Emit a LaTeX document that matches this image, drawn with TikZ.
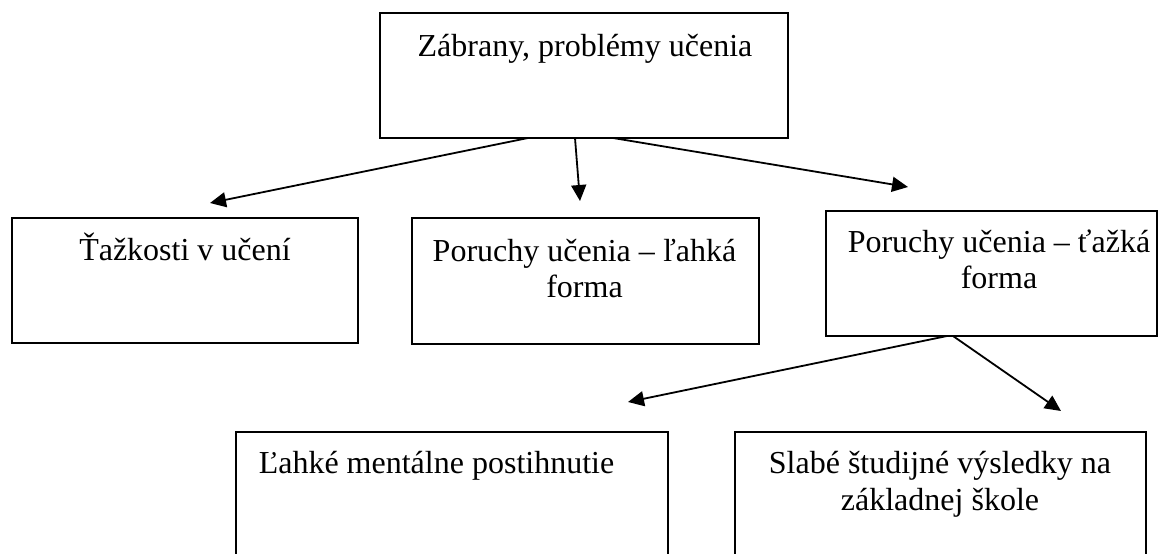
\documentclass[tikz,border=0pt]{standalone}
\usepackage{fontspec}
\setmainfont{Liberation Serif}
\usetikzlibrary{arrows.meta}
\begin{document}
\begin{tikzpicture}[x=1pt,y=-1pt,
  box/.style={draw=black, line width=2pt, rectangle, inner sep=0pt},
  txt/.style={anchor=base, inner sep=0pt, font=\fontsize{32}{37}\selectfont},
  arr/.style={line width=1.8pt, -{Triangle[length=16pt,width=15pt]}}]
\useasboundingbox (0,0) rectangle (1160,554);
% boxes
\node[box, minimum width=408pt, minimum height=125pt] (top) at (584,75.2) {};
\node[box, minimum width=346pt, minimum height=125pt] (b1) at (185,280.5) {};
\node[box, minimum width=347pt, minimum height=126pt] (b2) at (585.5,281) {};
\node[box, minimum width=331pt, minimum height=125pt] (b3) at (991.5,273.5) {};
\node[box, minimum width=432pt, minimum height=160pt] (b4) at (452,512) {};
\node[box, minimum width=411pt, minimum height=160pt] (b5) at (940.5,512) {};
% texts
\node[txt] (t0) at (585,56) {Zábrany, problémy učenia};
\node[txt] (t1) at (185,260) {Ťažkosti v učení};
\node[txt] (t2a) at (584.5,261) {Poruchy učenia – ľahká};
\node[txt] (t2b) at (584.5,297) {forma};
\node[txt] (t3a) at (999,252) {Poruchy učenia – ťažká};
\node[txt] (t3b) at (999,288) {forma};
\node[txt] (t4) at (436.5,473) {Ľahké mentálne postihnutie};
\node[txt] (t5a) at (940,473) {Slabé študijné výsledky na};
\node[txt] (t5b) at (940,510) {základnej škole};
% arrow ends
\coordinate (s1) at (528,138);
\coordinate (s2) at (575,138);
\coordinate (s3) at (613,138);
\coordinate (e1) at (210,203);
\coordinate (e2) at (580,201);
\coordinate (e3) at (908,187);
\coordinate (s4) at (947,336);
\coordinate (s5) at (953,336);
\coordinate (e4) at (628,402);
\coordinate (e5) at (1061,411);
\draw[arr] (s1) -- (e1);
\draw[arr] (s2) -- (e2);
\draw[arr] (s3) -- (e3);
\draw[arr] (s4) -- (e4);
\draw[arr] (s5) -- (e5);
\end{tikzpicture}
\end{document}
